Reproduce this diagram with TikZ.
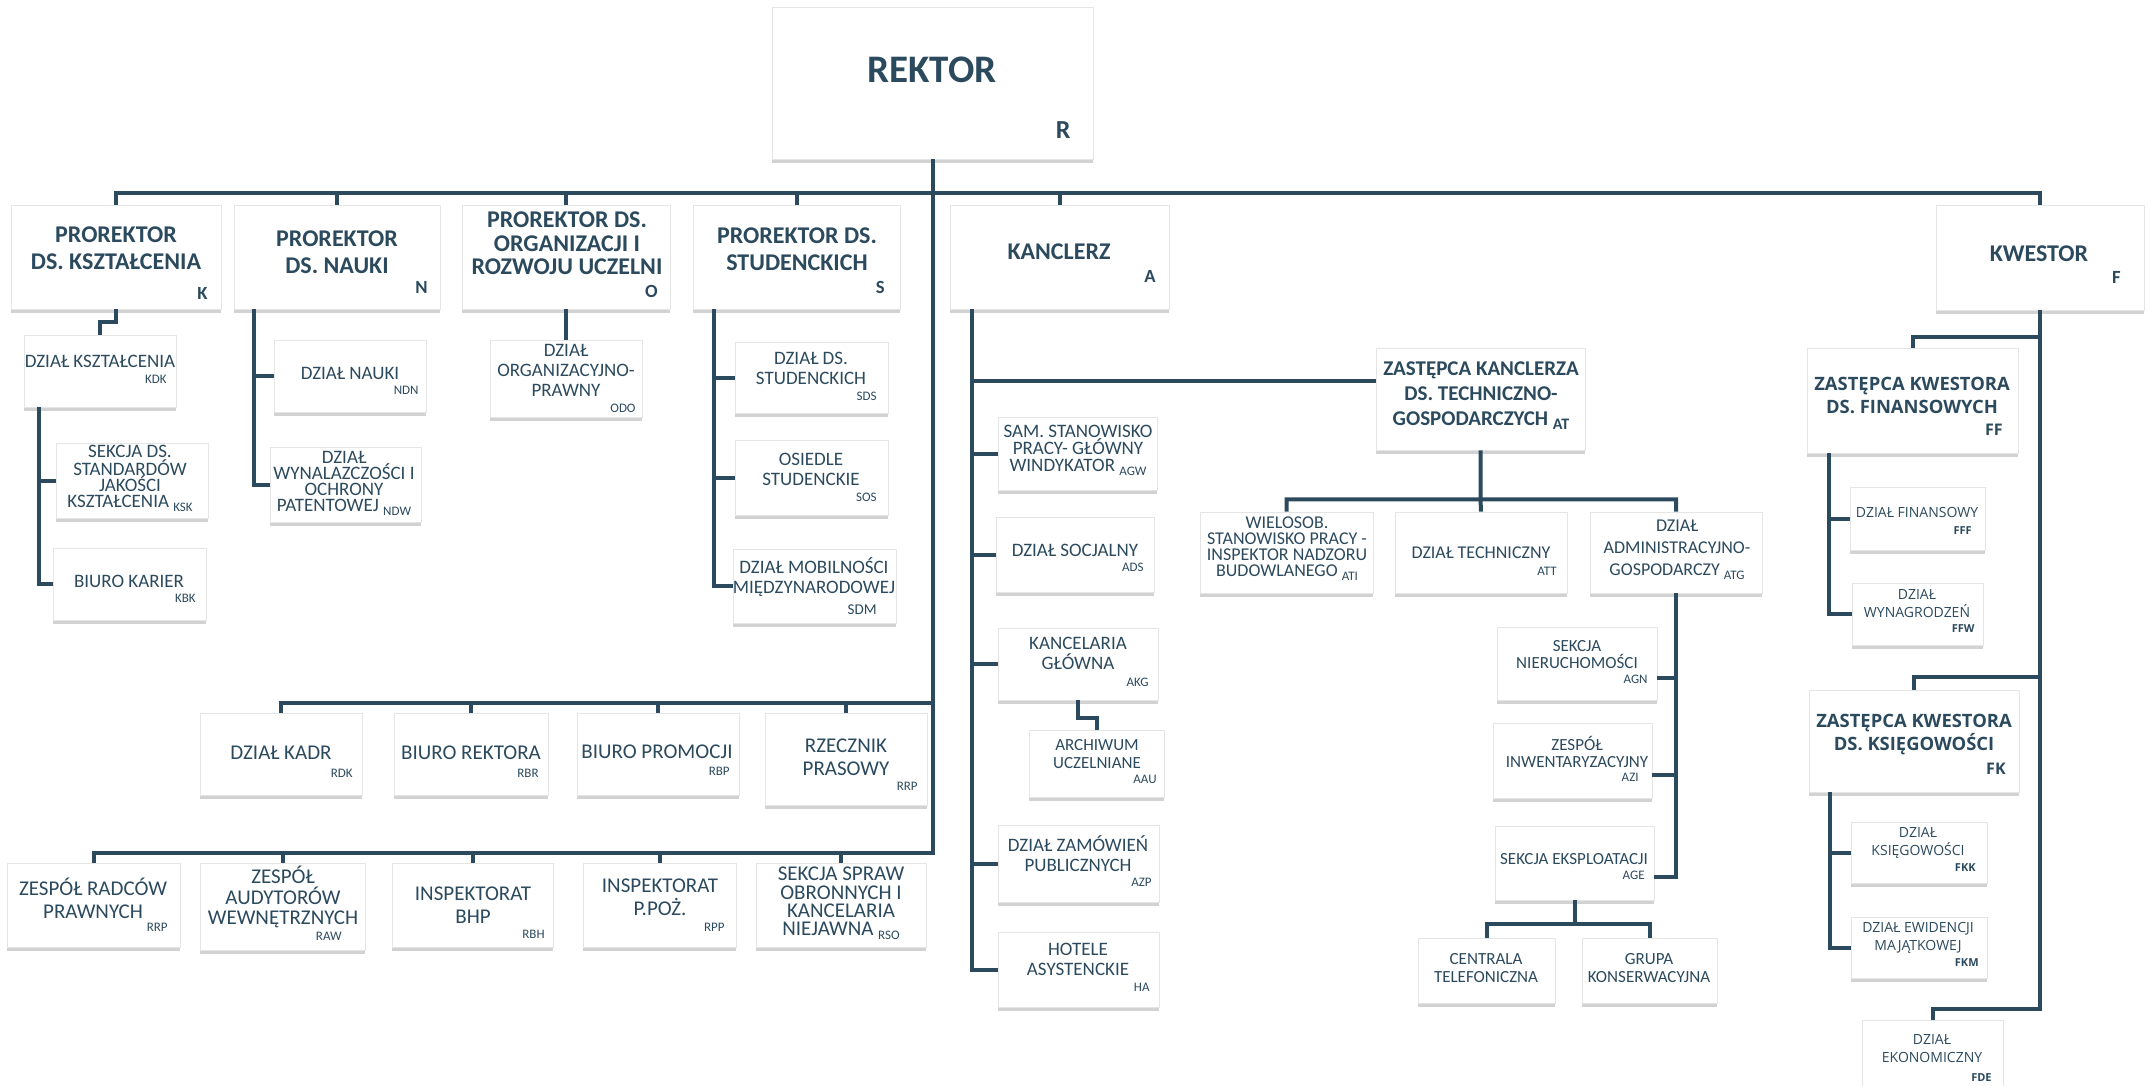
\documentclass[tikz,border=0pt]{standalone}
\usepackage{fontspec}
\setmainfont{Carlito}
\newfontfamily\kwfont{Open Sans}
\usetikzlibrary{fit, shadows}
\definecolor{orgblue}{RGB}{44,74,94}
\newcommand{\lowcode}[2][6.5]{\raisebox{-2pt}{\fontsize{#1}{#1}\selectfont #2}}
\tikzstyle{box}=[draw=black!10, fill=white, inner sep=0pt, drop shadow={shadow xshift=0pt, shadow yshift=-2pt, opacity=0.35}]
\tikzstyle{head}=[inner sep=0pt, align=center, text=orgblue, font=\bfseries\fontsize{12}{13.5}\selectfont]
\tikzstyle{headcode}=[anchor=east, inner sep=0pt, text=orgblue, font=\bfseries\fontsize{9.3}{9.3}\selectfont]
\tikzstyle{txt}=[inner sep=0pt, align=center, text=orgblue, font=\fontsize{9.5}{10}\selectfont]
\tikzstyle{rowtxt}=[txt, font=\fontsize{10.5}{11.5}\selectfont]
\tikzstyle{smalltxt}=[txt, font=\fontsize{8.5}{8.75}\selectfont]
\tikzstyle{code}=[anchor=east, inner sep=0pt, text=orgblue, font=\fontsize{6.5}{6.5}\selectfont]
\tikzstyle{kwhead}=[head, font=\kwfont\bfseries\fontsize{9.2}{11.5}\selectfont]
\tikzstyle{kwtxt}=[txt, font=\kwfont\fontsize{7}{9}\selectfont]
\tikzstyle{kwcode}=[code, font=\kwfont\bfseries\fontsize{5.5}{5.5}\selectfont]
\tikzstyle{conn}=[draw=orgblue, line width=2pt]

\begin{document}
\begin{tikzpicture}[x=0.5pt, y=-0.5pt]
    \useasboundingbox (0,0) rectangle (2151,1086);
    \clip (0,0) rectangle (2151,1086);
    \fill[white] (0,0) rectangle (2151,1086);

    \node[box, fit={(772,7) (1093,159)}] (rektor) {};
    \node[head, font=\bfseries\fontsize{19.5}{20}\selectfont] (rektor-t) at (932,70) {REKTOR};
    \node[headcode, font=\bfseries\fontsize{13}{13}\selectfont] (rektor-c) at (1071,130) {R};

    \node[box, fit={(11,205) (221,309)}] (k) {};
    \node[head] (k-t) at (116,248.5) {PROREKTOR\\DS. KSZTAŁCENIA};
    \node[headcode] (k-c) at (208,293) {K};
    \node[box, fit={(234,205) (440,309)}] (n) {};
    \node[head] (n-t) at (337,252.5) {PROREKTOR\\DS. NAUKI};
    \node[headcode] (n-c) at (428,287) {N};
    \node[box, fit={(462,205) (670,309)}] (o) {};
    \node[head, font=\bfseries\fontsize{12}{11.75}\selectfont] (o-t) at (567,243.5) {PROREKTOR DS.\\ORGANIZACJI I\\ROZWOJU UCZELNI};
    \node[headcode] (o-c) at (658,291) {O};
    \node[box, fit={(693,205) (900,309)}] (s) {};
    \node[head] (s-t) at (797,249) {PROREKTOR DS.\\STUDENCKICH};
    \node[headcode] (s-c) at (885,287) {S};
    \node[box, fit={(950,205) (1169,309)}] (a) {};
    \node[head] (a-t) at (1059,252) {KANCLERZ};
    \node[headcode] (a-c) at (1156,276) {A};
    \node[box, fit={(1936,205) (2144,310)}] (f) {};
    \node[head] (f-t) at (2039,254) {KWESTOR};
    \node[headcode] (f-c) at (2121,277) {F};

    \node[box, fit={(24,335) (176,407)}] (kdk) {};
    \node[txt] (kdk-t) at (100,361) {DZIAŁ KSZTAŁCENIA};
    \node[code] (kdk-c) at (167,379) {KDK};
    \node[box, fit={(56,443) (208,518)}] (ksk) {};
    \node[txt, font=\fontsize{9.5}{8}\selectfont] (ksk-t) at (130,478) {SEKCJA DS.\\STANDARDÓW\\JAKOŚCI\\KSZTAŁCENIA \lowcode{KSK}};
    \node[box, fit={(53,548) (206,620)}] (kbk) {};
    \node[txt] (kbk-t) at (129,581) {BIURO KARIER};
    \node[code] (kbk-c) at (196,598) {KBK};

    \node[box, fit={(274,340) (426,412)}] (ndn) {};
    \node[txt] (ndn-t) at (350,373) {DZIAŁ NAUKI};
    \node[code] (ndn-c) at (419,390) {NDN};
    \node[box, fit={(270,447) (421,522)}] (ndw) {};
    \node[txt, font=\fontsize{9.5}{8}\selectfont] (ndw-t) at (344,483) {DZIAŁ\\WYNALAZCZOŚCI I\\OCHRONY\\PATENTOWEJ \lowcode{NDW}};

    \node[box, fit={(490,340) (642,417)}] (odo) {};
    \node[txt] (odo-t) at (566,370.5) {DZIAŁ\\ORGANIZACYJNO-\\PRAWNY};
    \node[code] (odo-c) at (636,408) {ODO};

    \node[box, fit={(735,342) (888,413)}] (sds) {};
    \node[txt] (sds-t) at (811,368) {DZIAŁ DS.\\STUDENCKICH};
    \node[code] (sds-c) at (877,396) {SDS};
    \node[box, fit={(735,440) (888,515)}] (sos) {};
    \node[txt] (sos-t) at (811,469.5) {OSIEDLE\\STUDENCKIE};
    \node[code] (sos-c) at (877,497) {SOS};
    \node[box, fit={(733,549) (896,623)}] (sdm) {};
    \node[txt] (sdm-t) at (814,577) {DZIAŁ MOBILNOŚCI\\MIĘDZYNARODOWEJ};
    \node[code, font=\fontsize{7.5}{7.5}\selectfont] (sdm-c) at (877,610) {SDM};

    \node[box, fit={(200,713) (362,795)}] (rdk) {};
    \node[rowtxt] (rdk-t) at (281,753) {DZIAŁ KADR};
    \node[code] (rdk-c) at (353,773) {RDK};
    \node[box, fit={(394,713) (548,795)}] (rbr) {};
    \node[rowtxt] (rbr-t) at (471,753) {BIURO REKTORA};
    \node[code] (rbr-c) at (539,773) {RBR};
    \node[box, fit={(577,713) (739,795)}] (rbp) {};
    \node[rowtxt] (rbp-t) at (657,752) {BIURO PROMOCJI};
    \node[code] (rbp-c) at (730,771) {RBP};
    \node[box, fit={(765,713) (927,805)}] (rrp) {};
    \node[rowtxt] (rrp-t) at (846,757) {RZECZNIK\\PRASOWY};
    \node[code] (rrp-c) at (918,786) {RRP};

    \node[box, fit={(7,863) (180,947)}] (zrp) {};
    \node[rowtxt] (zrp-t) at (93,898.5) {ZESPÓŁ RADCÓW\\PRAWNYCH};
    \node[code] (zrp-c) at (168,927) {RRP};
    \node[box, fit={(200,863) (365,950)}] (raw) {};
    \node[rowtxt, font=\fontsize{10.5}{10.25}\selectfont] (raw-t) at (283,897) {ZESPÓŁ\\AUDYTORÓW\\WEWNĘTRZNYCH};
    \node[code] (raw-c) at (342,936) {RAW};
    \node[box, fit={(392,863) (553,947)}] (rbh) {};
    \node[rowtxt] (rbh-t) at (473,905.5) {INSPEKTORAT\\BHP};
    \node[code] (rbh-c) at (545,934) {RBH};
    \node[box, fit={(583,863) (736,947)}] (rpp) {};
    \node[rowtxt] (rpp-t) at (660,897.5) {INSPEKTORAT\\P.POŻ.};
    \node[code] (rpp-c) at (725,927) {RPP};
    \node[box, fit={(756,863) (926,947)}] (rso) {};
    \node[rowtxt, font=\fontsize{10.5}{9.2}\selectfont] (rso-t) at (841,903.5) {SEKCJA SPRAW\\OBRONNYCH I\\KANCELARIA\\NIEJAWNA \lowcode{RSO}};

    \node[box, fit={(998,417) (1157,490)}] (agw) {};
    \node[txt, font=\fontsize{9.5}{8.5}\selectfont] (agw-t) at (1078,450) {SAM. STANOWISKO\\PRACY- GŁÓWNY\\WINDYKATOR \lowcode{AGW}};
    \node[box, fit={(996,517) (1154,592)}] (ads) {};
    \node[txt] (ads-t) at (1075,550) {DZIAŁ SOCJALNY};
    \node[code] (ads-c) at (1144,567) {ADS};
    \node[box, fit={(998,628) (1158,700)}] (akg) {};
    \node[txt] (akg-t) at (1078,653.5) {KANCELARIA\\GŁÓWNA};
    \node[code] (akg-c) at (1149,682) {AKG};
    \node[box, fit={(1029,730) (1164,797)}] (aau) {};
    \node[smalltxt] (aau-t) at (1097,754) {ARCHIWUM\\UCZELNIANE};
    \node[code] (aau-c) at (1157,779) {AAU};
    \node[box, fit={(998,825) (1159,902)}] (azp) {};
    \node[txt] (azp-t) at (1078,854) {DZIAŁ ZAMÓWIEŃ\\PUBLICZNYCH};
    \node[code] (azp-c) at (1152,882) {AZP};
    \node[box, fit={(998,932) (1159,1007)}] (ha) {};
    \node[txt] (ha-t) at (1078,959.5) {HOTELE\\ASYSTENCKIE};
    \node[code] (ha-c) at (1150,987) {HA};

    \node[box, fit={(1376,348) (1585,450)}] (zkt) {};
    \node[head, font=\bfseries\fontsize{10.5}{12.5}\selectfont] (zkt-t) at (1481,396) {ZASTĘPCA KANCLERZA\\DS. TECHNICZNO-\\GOSPODARCZYCH \lowcode[8]{AT}};
    \node[box, fit={(1200,512) (1373,593)}] (ati) {};
    \node[txt, font=\fontsize{9}{8}\selectfont] (ati-t) at (1287,549) {WIELOSOB.\\STANOWISKO PRACY -\\INSPEKTOR NADZORU\\BUDOWLANEGO \lowcode{ATI}};
    \node[box, fit={(1395,512) (1567,593)}] (att) {};
    \node[txt, font=\fontsize{9}{10}\selectfont] (att-t) at (1481,553) {DZIAŁ TECHNICZNY};
    \node[code] (att-c) at (1557,571) {ATT};
    \node[box, fit={(1590,512) (1762,593)}] (atg) {};
    \node[txt, font=\fontsize{9}{11}\selectfont] (atg-t) at (1677,550) {DZIAŁ\\ADMINISTRACYJNO-\\GOSPODARCZY \lowcode{ATG}};

    \node[box, fit={(1497,627) (1657,700)}] (agn) {};
    \node[smalltxt] (agn-t) at (1577,654.5) {SEKCJA\\NIERUCHOMOŚCI};
    \node[code] (agn-c) at (1648,679) {AGN};
    \node[box, fit={(1493,723) (1652,798)}] (azi) {};
    \node[smalltxt] (azi-t) at (1577,752) {ZESPÓŁ\\INWENTARYZACYJNY};
    \node[code] (azi-c) at (1639,777) {AZI};
    \node[box, fit={(1495,826) (1654,900)}] (age) {};
    \node[smalltxt] (age-t) at (1574,859) {SEKCJA EKSPLOATACJI};
    \node[code] (age-c) at (1645,875) {AGE};
    \node[box, fit={(1418,938) (1555,1003)}] (act) {};
    \node[smalltxt, font=\fontsize{8.5}{9}\selectfont] (act-t) at (1486,968) {CENTRALA\\TELEFONICZNA};
    \node[box, fit={(1582,938) (1717,1003)}] (agk) {};
    \node[smalltxt, font=\fontsize{8.5}{9}\selectfont] (agk-t) at (1649,968) {GRUPA\\KONSERWACYJNA};

    \node[box, fit={(1807,348) (2018,453)}] (ff) {};
    \node[kwhead] (ff-t) at (1912,395.5) {ZASTĘPCA KWESTORA\\DS. FINANSOWYCH};
    \node[kwcode, font=\kwfont\bfseries\fontsize{8}{8}\selectfont] (ff-c) at (2003,430) {FF};
    \node[box, fit={(1850,487) (1985,550)}] (fff) {};
    \node[kwtxt] (fff-t) at (1917,512) {DZIAŁ FINANSOWY};
    \node[kwcode] (fff-c) at (1972,531) {FFF};
    \node[box, fit={(1852,583) (1983,645)}] (ffw) {};
    \node[kwtxt] (ffw-t) at (1917,604) {DZIAŁ\\WYNAGRODZEŃ};
    \node[kwcode] (ffw-c) at (1975,629) {FFW};
    \node[box, fit={(1809,690) (2019,792)}] (fk) {};
    \node[kwhead] (fk-t) at (1914,734.5) {ZASTĘPCA KWESTORA\\DS. KSIĘGOWOŚCI};
    \node[kwcode, font=\kwfont\bfseries\fontsize{8}{8}\selectfont] (fk-c) at (2006,769) {FK};
    \node[box, fit={(1851,822) (1987,883)}] (fkk) {};
    \node[kwtxt] (fkk-t) at (1918,843) {DZIAŁ\\KSIĘGOWOŚCI};
    \node[kwcode] (fkk-c) at (1976,868) {FKK};
    \node[box, fit={(1851,917) (1987,978)}] (fkm) {};
    \node[kwtxt] (fkm-t) at (1918,938) {DZIAŁ EWIDENCJI\\MAJĄTKOWEJ};
    \node[kwcode] (fkm-c) at (1979,963) {FKM};
    \node[box, fit={(1862,1020) (2003,1095)}] (fde) {};
    \node[kwtxt] (fde-t) at (1932,1048.5) {DZIAŁ\\EKONOMICZNY};
    \node[kwcode] (fde-c) at (1992,1078) {FDE};

    \coordinate (rail) at (932.5,193);
    \coordinate (rowone) at (932.5,703);
    \coordinate (rowtwo) at (932.5,853);
    \draw[conn] (rektor.south) -- (rowtwo) -| (zrp.north);
    \draw[conn] (rail) -| (k.north) (rail) -| (n.north) (rail) -| (o.north) (rail) -| (s.north) (rail) -| (a.north) (rail) -| (f.north);
    \draw[conn] (rowone) -| (rdk.north) (rowone) -| (rbr.north) (rowone) -| (rbp.north) (rowone) -| (rrp.north);
    \draw[conn] (rowtwo) -| (raw.north) (rowtwo) -| (rbh.north) (rowtwo) -| (rpp.north) (rowtwo) -| (rso.north);

    \draw[conn] (k.south) -- ++(0,13) -| (kdk.north);
    \draw[conn] ([xshift=7.5pt]kdk.south west) |- (ksk.west) ([xshift=7.5pt]kdk.south west) |- (kbk.west);
    \draw[conn] ([xshift=10pt]n.south west) |- (ndn.west) ([xshift=10pt]n.south west) |- (ndw.west);
    \draw[conn] (o.south) -- (odo.north);
    \draw[conn] ([xshift=10.5pt]s.south west) |- (sds.west) ([xshift=10.5pt]s.south west) |- (sos.west) ([xshift=10.5pt]s.south west) |- (sdm.west);

    \draw[conn] ([xshift=11pt]a.south west) |- (ha.west);
    \draw[conn] ([xshift=11pt]a.south west) |- ([yshift=9pt]zkt.west);
    \draw[conn] ([xshift=11pt]a.south west) |- (agw.west) ([xshift=11pt]a.south west) |- (ads.west) ([xshift=11pt]a.south west) |- (akg.west) ([xshift=11pt]a.south west) |- (azp.west);
    \draw[conn] (akg.south) -- ++(0,18) -| (aau.north);
    \draw[conn] (zkt.south) -- ++(0,49) coordinate (ztrail) -| (ati.north) (ztrail) -| (atg.north) (ztrail) -- (att.north);
    \draw[conn] (atg.south) |- ([yshift=-7pt]age.east) (atg.south) |- ([yshift=-7pt]azi.east) (atg.south) |- ([yshift=-7pt]agn.east);
    \draw[conn] (age.south) -- ++(0,24) coordinate (agerail) -| (act.north) (agerail) -| (agk.north);

    \coordinate (fone) at (2040,337);
    \coordinate (ftwo) at (2040,677);
    \coordinate (fthree) at (2040,1009);
    \draw[conn] (f.south) -- (fthree) -| (fde.north) (fone) -| (ff.north) (ftwo) -| (fk.north);
    \draw[conn] ([xshift=11pt]ff.south west) |- (fff.west) ([xshift=11pt]ff.south west) |- (ffw.west);
    \draw[conn] ([xshift=10.5pt]fk.south west) |- (fkk.west) ([xshift=10.5pt]fk.south west) |- (fkm.west);
\end{tikzpicture}
\end{document}
